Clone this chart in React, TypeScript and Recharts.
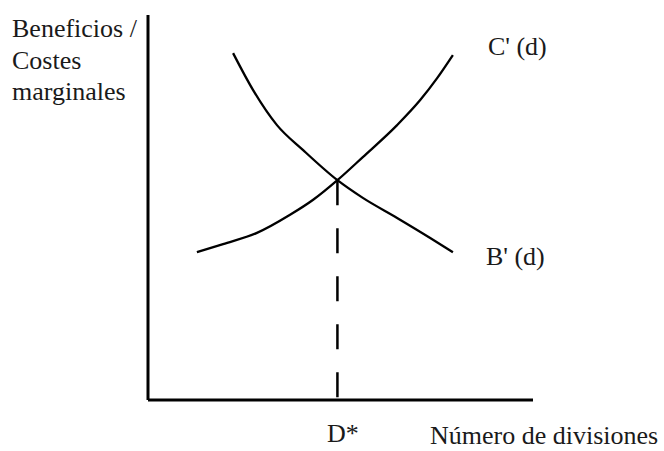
import React from "react";
import {
  ComposedChart,
  Line,
  XAxis,
  YAxis,
  ReferenceLine,
} from "recharts";

// marginal cost curve C'(d) (plot units 0-100)
const costX = [12.7, 19.5, 28.3, 36.9, 42.9, 49.2, 55.8, 64.7, 70.7, 75.1, 79.2];
const costY = [38.4, 40.5, 43.4, 48.1, 52.0, 57.1, 63.1, 71.4, 77.9, 83.6, 89.6];

// marginal benefit curve B'(d)
const benefitX = [22.1, 27.3, 33.5, 40.3, 49.2, 55.8, 64.7, 73.3, 79.2];
const benefitY = [90.1, 80.5, 71.4, 64.9, 57.1, 52.5, 47.3, 42.1, 38.4];

// optimum where both curves cross
const dStar = 49.2;
const yStar = 57.1;

const yTitle = ["Beneficios /", "Costes", "marginales"];
const xTitle = "Número de divisiones";
const costLabel = "C' (d)";
const benefitLabel = "B' (d)";
const dStarLabel = "D*";

const FONT = "'Liberation Serif', 'Times New Roman', serif";
const FS = 26;

const costData = costX.map((x, i) => ({ x, y: costY[i] }));
const benefitData = benefitX.map((x, i) => ({ x, y: benefitY[i] }));

// label only next to the last point of a curve
const endLabel =
  (text: string, count: number, dx: number, dy: number) => (props: any) => {
    const { x, y, index } = props;
    if (index !== count - 1) return null;
    return (
      <text x={x + dx} y={y + dy} fontFamily={FONT} fontSize={FS} fill="#1a1a1a">
        {text}
      </text>
    );
  };

export default function App() {
  return (
    <div style={{ position: "absolute", left: 0, top: 0, background: "#fff" }}>
      <ComposedChart
        width={664}
        height={451}
        margin={{ top: 15, right: 131, bottom: 50, left: 147 }}
      >
        <XAxis
          type="number"
          dataKey="x"
          domain={[0, 100]}
          allowDataOverflow
          height={1}
          ticks={[dStar]}
          interval={0}
          tickLine={false}
          tickSize={0}
          tickMargin={0}
          axisLine={{ stroke: "#000", strokeWidth: 3 }}
          tick={(p: any) => (
            <text
              x={p.x + 5.5}
              y={p.y + 42}
              textAnchor="middle"
              fontFamily={FONT}
              fontSize={FS}
              fill="#1a1a1a"
            >
              {dStarLabel}
            </text>
          )}
          label={(p: any) => {
            const vb = p.viewBox || {};
            return (
              <text
                x={(vb.x ?? 148) + 282}
                y={(vb.y ?? 400) + 44}
                fontFamily={FONT}
                fontSize={FS}
                fill="#1a1a1a"
              >
                {xTitle}
              </text>
            );
          }}
        />
        <YAxis
          type="number"
          dataKey="y"
          domain={[0, 100]}
          allowDataOverflow
          width={1}
          tick={false}
          tickLine={false}
          axisLine={{ stroke: "#000", strokeWidth: 3 }}
          label={(p: any) => {
            const vb = p.viewBox || {};
            const x0 = (vb.x ?? 147) + (vb.width ?? 1) - 136;
            const y0 = (vb.y ?? 15) + 22;
            return (
              <text fontFamily={FONT} fontSize={FS} fill="#1a1a1a">
                {yTitle.map((t, i) => (
                  <tspan key={t} x={x0} y={y0 + i * 31.5}>
                    {t}
                  </tspan>
                ))}
              </text>
            );
          }}
        />
        <ReferenceLine
          segment={[
            { x: dStar, y: yStar },
            { x: dStar, y: 0 },
          ]}
          stroke="#000"
          strokeWidth={2.5}
          strokeDasharray="25 23"
          ifOverflow="visible"
        />
        <Line
          data={costData}
          dataKey="y"
          type="monotone"
          stroke="#000"
          strokeWidth={2.3}
          dot={false}
          isAnimationActive={false}
          label={endLabel(costLabel, costData.length, 35, 0)}
        />
        <Line
          data={benefitData}
          dataKey="y"
          type="monotone"
          stroke="#000"
          strokeWidth={2.3}
          dot={false}
          isAnimationActive={false}
          label={endLabel(benefitLabel, benefitData.length, 33, 13)}
        />
      </ComposedChart>
    </div>
  );
}
